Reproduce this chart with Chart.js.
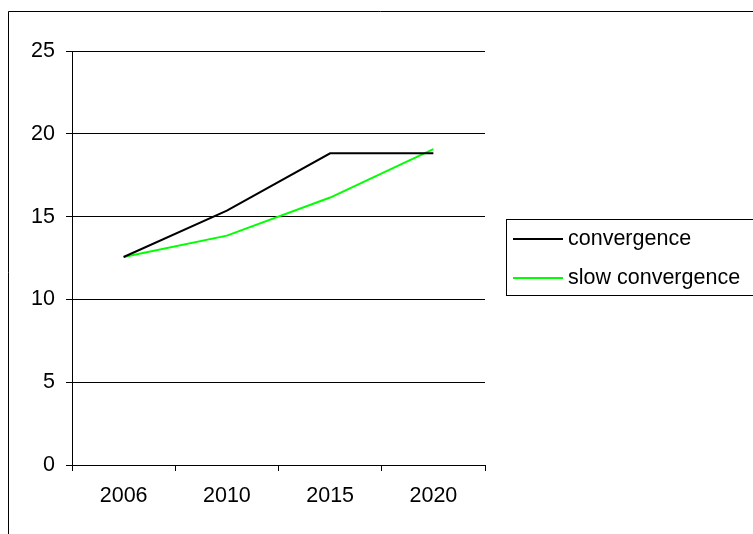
<!DOCTYPE html>
<html>
<head>
<meta charset="utf-8">
<script src="https://cdn.jsdelivr.net/npm/chart.js@4"></script>
<style>
  html, body { margin: 0; padding: 0; background: #fff; }
  #wrap { width: 753px; height: 534px; }
</style>
</head>
<body>
<div id="wrap"><canvas id="chart" width="753" height="534"></canvas></div>
<script>
// categories and series
const years = ["2006", "2010", "2015", "2020"];
const convergence = [12.56, 15.36, 18.82, 18.82];
const slowConvergence = [12.56, 13.85, 16.15, 19.08];
const seriesNames = ["convergence", "slow convergence"];
const seriesColors = ["#000000", "#00ff00"];

const FONT = { family: "'Liberation Sans', Arial, sans-serif", size: 21.5 };

// outer frame + legend box, Excel style
const frameAndLegend = {
  id: "frameAndLegend",
  afterDraw(chart) {
    const ctx = chart.ctx;
    ctx.save();
    ctx.strokeStyle = "#000";
    ctx.lineWidth = 1;
    ctx.beginPath();
    ctx.moveTo(8.5, 534);
    ctx.lineTo(8.5, 11.5);
    ctx.lineTo(753, 11.5);
    ctx.stroke();

    // legend
    ctx.strokeRect(506.5, 219.5, 300, 76);
    ctx.font = FONT.size + "px " + FONT.family;
    ctx.textBaseline = "middle";
    ctx.fillStyle = "#000";
    const rows = [239, 278];
    chart.data.datasets.forEach((ds, i) => {
      ctx.strokeStyle = ds.borderColor;
      ctx.lineWidth = 2;
      ctx.beginPath();
      ctx.moveTo(513, rows[i]);
      ctx.lineTo(563, rows[i]);
      ctx.stroke();
      ctx.fillText(ds.label, 568, rows[i]);
    });
    ctx.restore();
  }
};

new Chart(document.getElementById("chart"), {
  type: "line",
  data: {
    labels: years,
    datasets: [
      {
        label: seriesNames[0],
        data: convergence,
        borderColor: seriesColors[0],
        borderWidth: 2,
        pointRadius: 0,
        tension: 0
      },
      {
        label: seriesNames[1],
        data: slowConvergence,
        borderColor: seriesColors[1],
        borderWidth: 2,
        pointRadius: 0,
        tension: 0
      }
    ]
  },
  options: {
    responsive: false,
    animation: false,
    layout: { padding: { left: 0, top: 51, right: 268, bottom: 0 } },
    plugins: {
      legend: { display: false },
      tooltip: { enabled: false }
    },
    scales: {
      x: {
        offset: true,
        afterFit: (scale) => { scale.height = 69; },
        grid: {
          offset: true,
          drawOnChartArea: false,
          drawTicks: true,
          tickLength: 6,
          color: "#000"
        },
        border: { display: true, color: "#000", width: 1 },
        ticks: { font: FONT, color: "#000", padding: 12, maxRotation: 0 }
      },
      y: {
        min: 0,
        max: 25,
        afterFit: (scale) => { scale.width = 72; },
        grid: { color: "#000", tickLength: 6 },
        border: { display: true, color: "#000", width: 1 },
        ticks: { stepSize: 5, font: FONT, color: "#000", padding: 11 }
      }
    }
  },
  plugins: [frameAndLegend]
});
</script>
</body>
</html>
